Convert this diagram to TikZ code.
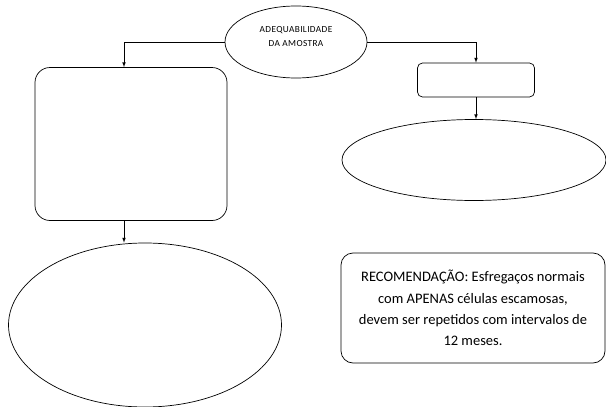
\documentclass[tikz,border=0pt]{standalone}
\usepackage{fontspec}
\setmainfont{Carlito}
\usetikzlibrary{shapes,arrows,positioning}

\begin{document}
\begin{tikzpicture}[
    x=1pt, y=-1pt,
    every node/.style={inner sep=0pt},
    oval/.style={ellipse, draw, line width=0.7pt},
    panel/.style={rectangle, draw, line width=0.7pt},
    arrow/.style={-latex, line width=0.7pt}
]
    \useasboundingbox (0,0) rectangle (606,407);

    \node[oval, minimum width=142pt, minimum height=72pt, label={[align=center, yshift=5pt, font=\fontsize{9.3}{14}\selectfont\addfontfeatures{LetterSpace=4}]center:ADEQUABILIDADE\\DA AMOSTRA}] (amostra) at (296,42) {};
    \node[panel, rounded corners=15pt, minimum width=192pt, minimum height=153pt] (leftbox) at (131,144) {};
    \node[oval, minimum width=273pt, minimum height=164pt] (leftoval) at (145,325) {};
    \node[panel, rounded corners=5pt, minimum width=117pt, minimum height=34pt] (rightbox) at (476,80) {};
    \node[oval, minimum width=264pt, minimum height=81pt] (rightoval) at (474,160) {};
    \node[panel, rounded corners=12pt, minimum width=264pt, minimum height=110pt, align=center, font=\fontsize{14.5}{21.2}\selectfont] (rec) at (473,308) {RECOMENDAÇÃO: Esfregaços normais\\com APENAS células escamosas,\\devem ser repetidos com intervalos de\\12 meses.};

    \draw[arrow] (amostra.west) -| ([xshift=-7pt]leftbox.north);
    \draw[arrow] (amostra.east) -| (rightbox.north);
    \draw[arrow] ([xshift=-7pt]leftbox.south) -- ([xshift=-7pt]leftbox.south |- leftoval.north);
    \draw[arrow] (rightbox.south) -- (rightbox.south |- rightoval.north);

\end{tikzpicture}
\end{document}
